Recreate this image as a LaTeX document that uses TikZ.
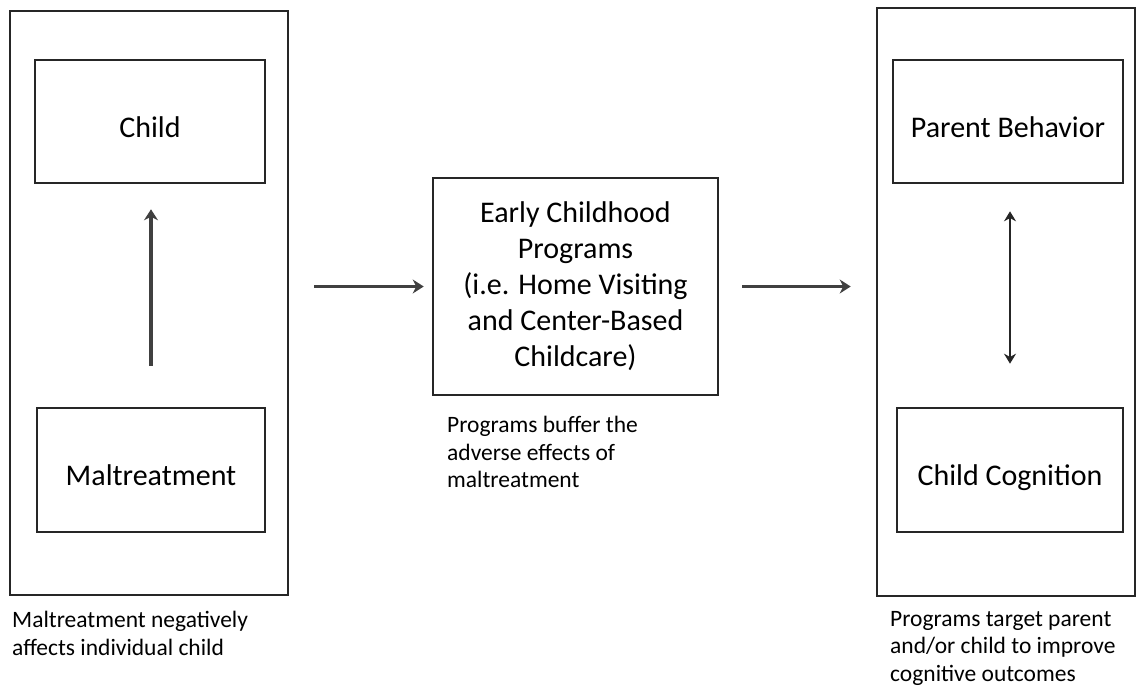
\documentclass[tikz,border=0pt]{standalone}
\usepackage{fontspec}
\setmainfont{Carlito}
\usetikzlibrary{arrows.meta}
\tikzset{
  outerbox/.style={draw=black!85, line width=2.6pt, inner sep=0pt},
  innerbox/.style={draw=black!85, line width=2.6pt, inner sep=0pt, align=center,
    font=\fontsize{30}{36}\selectfont, text=black},
  oneline/.style={text height=31pt, text depth=0pt},
  caption/.style={inner sep=0pt, align=left, anchor=north west,
    font=\fontsize{23.5}{27.5}\selectfont, text=black},
  conn/.style={draw=black!75, line width=3.8pt, -{Stealth[length=11pt,width=14pt]}},
  dconn/.style={draw=black!85, line width=2.6pt, {Stealth[length=10pt,width=12pt]}-{Stealth[length=10pt,width=12pt]}}
}
\begin{document}
\begin{tikzpicture}[x=1pt,y=-1pt]
\useasboundingbox (0,0) rectangle (1137,688);
% left group
\node[outerbox, minimum width=278pt, minimum height=584pt] (lout) at (149,303) {};
\node[innerbox, oneline, minimum width=230pt, minimum height=123pt] (child) at (150,121.5) {Child};
\node[innerbox, oneline, minimum width=228pt, minimum height=124pt] (malt) at (151,470) {Maltreatment};
\node[caption] (lcap) at (12,611) {Maltreatment negatively\\affects individual child};
% middle
\node[innerbox, minimum width=285pt, minimum height=217pt] (mid) at (575.5,286.5)
  {Early Childhood\\Programs\\(i.e. Home Visiting\\and Center-Based\\Childcare)};
\node[caption] (mcap) at (447,416) {Programs buffer the\\adverse effects of\\maltreatment};
% right group
\node[outerbox, minimum width=258pt, minimum height=588pt] (rout) at (1006,302) {};
\node[innerbox, oneline, minimum width=230pt, minimum height=123pt] (parent) at (1008,121.5) {Parent Behavior};
\node[innerbox, oneline, minimum width=226pt, minimum height=124pt] (cogn) at (1010,470) {Child Cognition};
\node[caption] (rcap) at (890,611) {Programs target parent\\and/or child to improve\\cognitive outcomes};
% connectors
\draw[conn, shorten <=41pt, shorten >=25pt] (malt.north) -- (malt.north |- child.south);
\draw[conn, shorten <=25pt, shorten >=8pt] (lout.east |- mid.west) -- (mid.west);
\draw[conn, shorten <=23pt, shorten >=25pt] (mid.east) -- (rout.west |- mid.east);
\draw[dconn, shorten <=27pt, shorten >=43pt] (cogn.north |- parent.south) -- (cogn.north);
\end{tikzpicture}
\end{document}
